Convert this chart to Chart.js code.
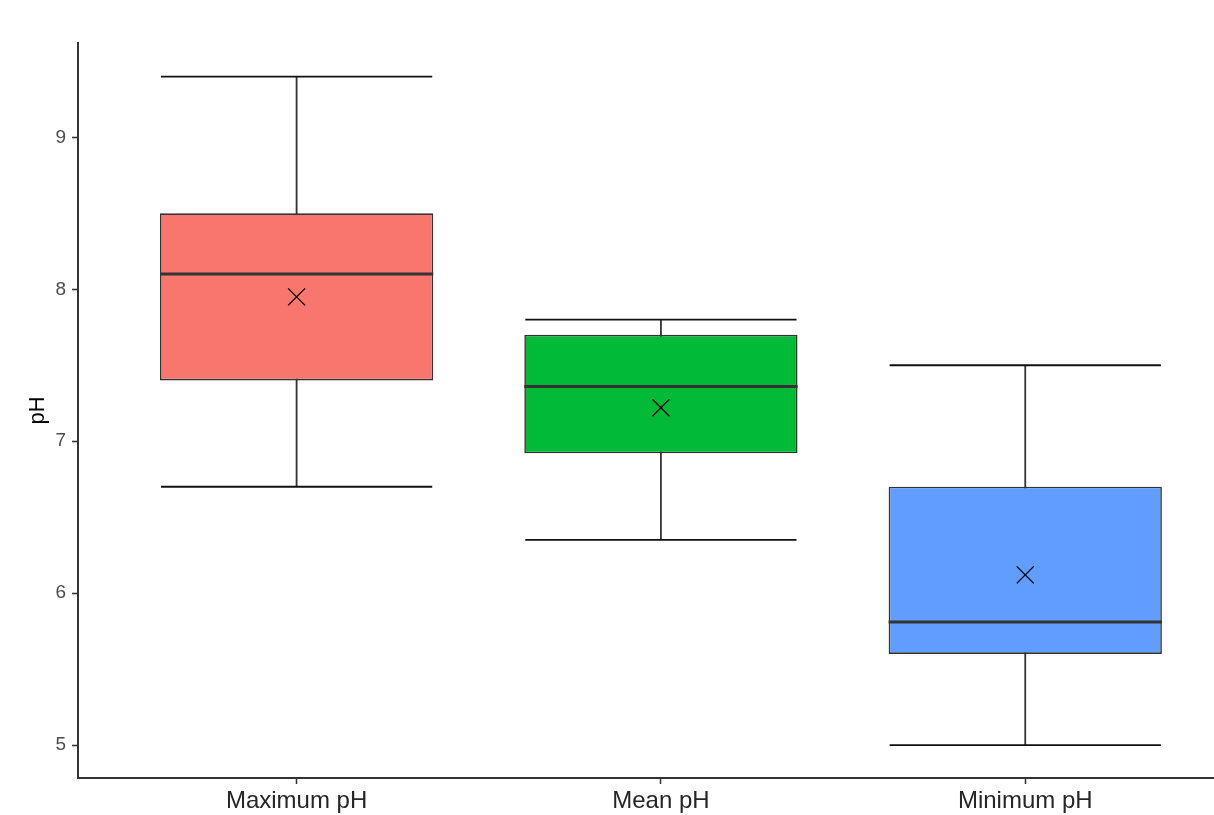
<!DOCTYPE html>
<html>
<head>
<meta charset="utf-8">
<script src="https://cdn.jsdelivr.net/npm/chart.js@4"></script>
<style>
  html, body { margin: 0; padding: 0; background: #fff; overflow: hidden; }
  canvas { display: block; }
</style>
</head>
<body>
<!-- canvas is a bit wider than the window: the plot runs off the right edge like the original -->
<canvas id="chart" width="1228" height="815"></canvas>
<script>
// values
const categories = ['Maximum pH', 'Mean pH', 'Minimum pH'];
const whiskerLow = [6.7, 6.35, 5.0];
const q1 = [7.4, 6.92, 5.6];
const median = [8.1, 7.36, 5.81];
const q3 = [8.5, 7.7, 6.7];
const whiskerHigh = [9.4, 7.8, 7.5];
const means = [7.95, 7.22, 6.12];
const yTicks = [5, 6, 7, 8, 9];

const fontFam = "Arial, 'Liberation Sans', sans-serif";

const line = (ctx, x1, y1, x2, y2) => {
  ctx.beginPath();
  ctx.moveTo(x1, y1);
  ctx.lineTo(x2, y2);
  ctx.stroke();
};

// whiskers + caps under the boxes, medians on top of them
const boxLines = {
  id: 'boxLines',
  beforeDatasetsDraw(chart) {
    const ctx = chart.ctx;
    const x = chart.scales.x, y = chart.scales.y;
    const meta = chart.getDatasetMeta(0);
    ctx.save();
    meta.data.forEach((bar, i) => {
      const cx = x.getPixelForValue(i + 1);
      const half = bar.width / 2 - 1;
      const yLo = y.getPixelForValue(whiskerLow[i]);
      const yHi = y.getPixelForValue(whiskerHigh[i]);
      ctx.strokeStyle = '#333';
      ctx.lineWidth = 1.8;
      line(ctx, cx, yLo, cx, yHi);
      ctx.strokeStyle = '#111';
      ctx.lineWidth = 1.8;
      line(ctx, cx - half, yLo, cx + half, yLo);
      line(ctx, cx - half, yHi, cx + half, yHi);
    });
    ctx.restore();
  },
  afterDatasetDraw(chart, args) {
    if (args.index !== 0) return;
    const ctx = chart.ctx;
    const y = chart.scales.y;
    ctx.save();
    ctx.strokeStyle = '#333';
    ctx.lineWidth = 3;
    args.meta.data.forEach((bar, i) => {
      const ym = y.getPixelForValue(median[i]);
      line(ctx, bar.x - bar.width / 2, ym, bar.x + bar.width / 2, ym);
    });
    ctx.restore();
  }
};

new Chart(document.getElementById('chart'), {
  type: 'bar',
  data: {
    datasets: [{
      label: 'box',
      order: 2,
      data: categories.map((c, i) => ({ x: i + 1, y: [q1[i], q3[i]] })),
      backgroundColor: ['#F8766D', '#00BA38', '#619CFF'],
      borderColor: '#333',
      borderWidth: 1.6,
      borderSkipped: false,
      categoryPercentage: 1,
      barPercentage: 0.75
    }, {
      type: 'line',
      label: 'mean',
      order: 1,
      data: categories.map((c, i) => ({ x: i + 1, y: means[i] })),
      showLine: false,
      pointStyle: 'crossRot',
      pointRadius: 12,
      borderColor: '#000',
      borderWidth: 1.3
    }]
  },
  options: {
    responsive: false,
    animation: false,
    layout: { padding: { top: 43, right: 0, bottom: 0, left: 0 } },
    plugins: { legend: { display: false }, tooltip: { enabled: false } },
    scales: {
      x: {
        type: 'linear',
        min: 0.4,
        max: 3.52,
        offset: false,
        afterBuildTicks: (axis) => { axis.ticks = categories.map((c, i) => ({ value: i + 1 })); },
        afterFit: (scale) => { scale.height = 37; },
        ticks: {
          callback: (v) => categories[v - 1],
          color: '#262626',
          font: { family: fontFam, size: 24 },
          padding: 3,
          maxRotation: 0
        },
        grid: { offset: false, drawOnChartArea: false, tickLength: 6, tickColor: '#333', tickWidth: 1.5 },
        border: { display: true, color: '#333', width: 2 }
      },
      y: {
        min: 4.783,
        max: 9.621,
        afterBuildTicks: (axis) => { axis.ticks = yTicks.map(v => ({ value: v })); },
        afterFit: (scale) => { scale.width = 78; },
        ticks: {
          color: '#4d4d4d',
          font: { family: fontFam, size: 19 },
          padding: 6
        },
        grid: { drawOnChartArea: false, tickLength: 6, tickColor: '#333', tickWidth: 1.5 },
        border: { display: true, color: '#333', width: 2 },
        title: {
          display: true,
          text: 'pH',
          color: '#000',
          font: { family: fontFam, size: 22 },
          padding: { top: 25, bottom: 0 }
        }
      }
    }
  },
  plugins: [boxLines]
});
</script>
</body>
</html>
